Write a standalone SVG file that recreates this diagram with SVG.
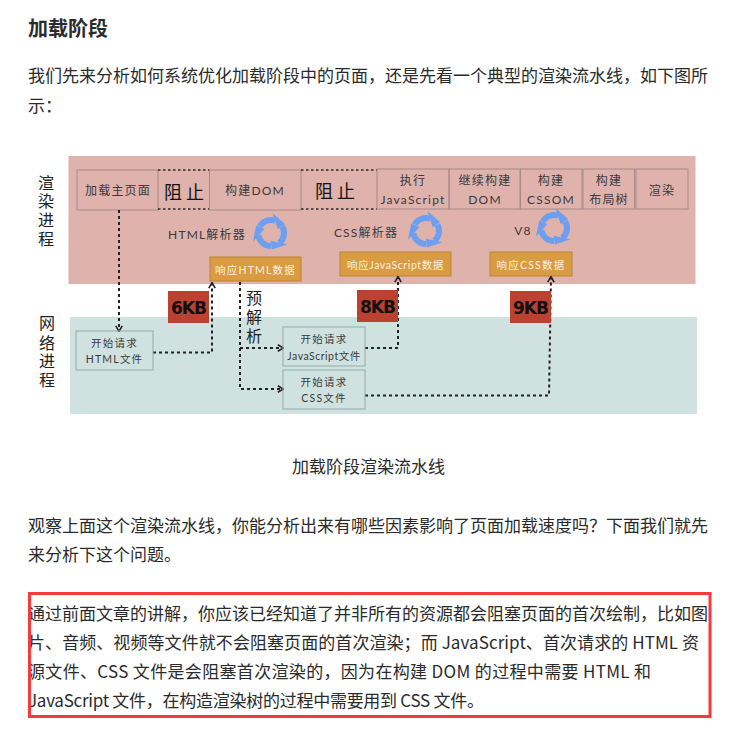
<svg xmlns="http://www.w3.org/2000/svg" width="731" height="731" viewBox="0 0 731 731">
<defs>
<style>
.body{font-family:"Noto Sans CJK SC","Liberation Sans",sans-serif;font-size:17px;fill:#2b2b2b}
.title{font-family:"Noto Sans CJK SC","Liberation Sans",sans-serif;font-size:20px;font-weight:700;fill:#2b2b2b}
.lb{font-family:"Lato","Noto Sans CJK SC",sans-serif;font-size:12px;fill:#3a3a3a;text-anchor:middle;dominant-baseline:central;letter-spacing:1.2px}
.sm{font-size:10.5px}
.big{font-size:18px;fill:#111;letter-spacing:4px}
.v{font-size:16px;fill:#222;letter-spacing:0}
.w{fill:#f8efdc;font-size:10.5px}
.kb{font-family:"DejaVu Sans","Liberation Sans",sans-serif;font-size:17px;font-weight:700;fill:#111;text-anchor:middle;dominant-baseline:central;letter-spacing:-1px}
.box{fill:none;stroke:#a88a86;stroke-width:1}
.gbox{fill:none;stroke:#94aaa7;stroke-width:1}
.dot{fill:none;stroke:#2a2a2a;stroke-width:1.5;stroke-dasharray:2.5 2.5}
.or{fill:#da9c42;stroke:#b98534;stroke-width:1}
.red{fill:#bb4130}
.c{fill:none;stroke:#222;stroke-width:2;stroke-dasharray:3 3}
</style>
<marker id="ah" viewBox="0 0 10 10" refX="8.500" refY="5" markerWidth="8" markerHeight="8" markerUnits="userSpaceOnUse" orient="auto"><path d="M2 1L9 5L2 9" fill="none" stroke="#222" stroke-width="2"/></marker>
<g id="arr"><path d="M-11.300-6.500A13 13 0 0 1 4.400-12.200" fill="none" stroke="#6c9ff2" stroke-width="6"/><path d="M1.400-20L14-9L6.800-3.700Z" fill="#6c9ff2"/></g>
<g id="cycle"><use href="#arr"/><use href="#arr" transform="rotate(120)"/><use href="#arr" transform="rotate(240)"/></g>
</defs>
<rect width="731" height="731" fill="#fff"/>
<text class="title" x="28" y="36">加载阶段</text>
<text class="body" x="28" y="82">我们先来分析如何系统优化加载阶段中的页面，还是先看一个典型的渲染流水线，如下图所</text>
<text class="body" x="28" y="112">示：</text>
<rect x="68.500" y="156" width="627" height="128" fill="#dfb2ac"/>
<rect x="70" y="317" width="627" height="97" fill="#d0e2df"/>
<g id="n-load"><rect class="box" x="77" y="170" width="81" height="40"/><text class="lb" x="118" y="190.500">加载主页面</text></g>
<g id="n-block1"><path class="dot" d="M158 170H209.500M158 209H209.500"/><text class="lb big" x="186" y="192">阻止</text></g>
<g id="n-dom"><rect class="box" x="209.500" y="170" width="91.500" height="40"/><text class="lb" x="255" y="190.500">构建DOM</text></g>
<g id="n-block2"><path class="dot" d="M301 170H377M301 209H377"/><text class="lb big" x="337" y="191">阻止</text></g>
<g id="n-js"><rect class="box" x="377" y="169" width="72" height="40"/><text class="lb" x="413" y="180">执行</text><text class="lb" x="413" y="199">JavaScript</text></g>
<g id="n-dom2"><rect class="box" x="449" y="169" width="71" height="40"/><text class="lb" x="485" y="180">继续构建</text><text class="lb" x="485" y="199">DOM</text></g>
<g id="n-cssom"><rect class="box" x="520.500" y="169" width="61.500" height="40"/><text class="lb" x="551" y="180">构建</text><text class="lb" x="551" y="199">CSSOM</text></g>
<g id="n-layout"><rect class="box" x="583" y="169" width="51.500" height="40"/><text class="lb" x="609" y="180">构建</text><text class="lb" x="609" y="199">布局树</text></g>
<g id="n-paint"><rect class="box" x="636" y="169" width="52" height="40"/><text class="lb" x="662" y="190">渲染</text></g>
<g id="n-htmlparser"><text class="lb" x="207" y="234">HTML解析器</text><use href="#cycle" x="271" y="233"/></g>
<g id="n-cssparser"><text class="lb" x="366" y="232">CSS解析器</text><use href="#cycle" x="426" y="231"/></g>
<g id="n-v8"><text class="lb" x="523" y="230">V8</text><use href="#cycle" x="554" y="228"/></g>
<g id="n-rhtml"><rect class="or" x="210" y="257" width="91" height="24"/><text class="lb w" x="255.500" y="270">响应HTML数据</text></g>
<g id="n-rjs"><rect class="or" x="340" y="252" width="111" height="24"/><text class="lb w" x="395.500" y="265" style="letter-spacing:.6px">响应JavaScript数据</text></g>
<g id="n-rcss"><rect class="or" x="490" y="252" width="82" height="24"/><text class="lb w" x="531" y="265">响应CSS数据</text></g>
<g id="n-rend-label"><text class="lb v" x="46" y="182">渲</text><text class="lb v" x="46" y="200">染</text><text class="lb v" x="46" y="219">进</text><text class="lb v" x="46" y="238">程</text></g>
<g id="n-net-label"><text class="lb v" x="47" y="322">网</text><text class="lb v" x="47" y="342">络</text><text class="lb v" x="47" y="360">进</text><text class="lb v" x="47" y="379">程</text></g>
<g id="connectors">
<path class="c" d="M119 210V331" marker-end="url(#ah)"/>
<path class="c" d="M153 352.500H212V283" marker-end="url(#ah)"/>
<path class="c" d="M240 282V389H283" marker-end="url(#ah)"/>
<path class="c" d="M240 348H283" marker-end="url(#ah)"/>
<path class="c" d="M365 348H398V277" marker-end="url(#ah)"/>
<path class="c" d="M365 395.500H549L551 277" marker-end="url(#ah)"/>
</g>
<g id="n-pre"><text class="lb v" x="254" y="297">预</text><text class="lb v" x="254" y="316">解</text><text class="lb v" x="254" y="335">析</text></g>
<g id="n-6kb"><rect class="red" x="168" y="291" width="41" height="32"/><text class="kb" x="188.500" y="308">6KB</text></g>
<g id="n-8kb"><rect class="red" x="357" y="290" width="41" height="32"/><text class="kb" x="377.500" y="307">8KB</text></g>
<g id="n-9kb"><rect class="red" x="510" y="291" width="41" height="32"/><text class="kb" x="530.500" y="308">9KB</text></g>
<g id="n-qhtml"><rect class="gbox" x="76" y="331" width="77" height="39"/><text class="lb sm" x="114.500" y="343">开始请求</text><text class="lb sm" x="114.500" y="359">HTML文件</text></g>
<g id="n-qjs"><rect class="gbox" x="283" y="327" width="82" height="39"/><text class="lb sm" x="324" y="339">开始请求</text><text class="lb sm" x="324" y="356" style="letter-spacing:.5px">JavaScript文件</text></g>
<g id="n-qcss"><rect class="gbox" x="283" y="370" width="82" height="39"/><text class="lb sm" x="324" y="382">开始请求</text><text class="lb sm" x="324" y="398">CSS文件</text></g>
<text class="body" x="292" y="473">加载阶段渲染流水线</text>
<text class="body" x="28" y="532">观察上面这个渲染流水线，你能分析出来有哪些因素影响了页面加载速度吗？下面我们就先</text>
<text class="body" x="28" y="561">来分析下这个问题。</text>
<text class="body" x="28" y="620" textLength="680">通过前面文章的讲解，你应该已经知道了并非所有的资源都会阻塞页面的首次绘制，比如图</text>
<text class="body" x="28" y="649" textLength="671">片、音频、视频等文件就不会阻塞页面的首次渲染；而 JavaScript、首次请求的 HTML 资</text>
<text class="body" x="28" y="678" textLength="623">源文件、CSS 文件是会阻塞首次渲染的，因为在构建 DOM 的过程中需要 HTML 和</text>
<text class="body" x="28" y="707" textLength="456">JavaScript 文件，在构造渲染树的过程中需要用到 CSS 文件。</text>
<rect x="29.500" y="593.500" width="680.500" height="123" fill="none" stroke="#f73b3b" stroke-width="3"/>
</svg>
